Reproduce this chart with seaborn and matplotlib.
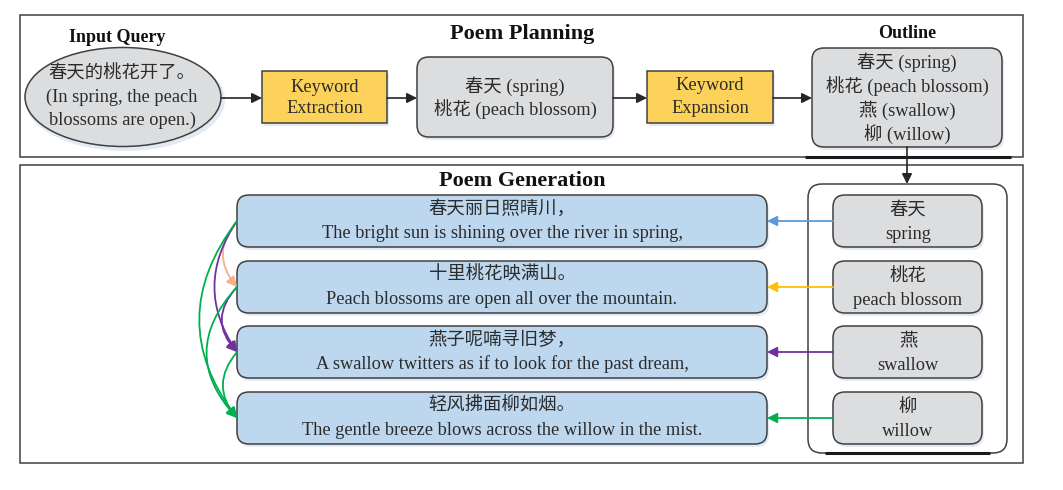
"""Poem planning / poem generation framework diagram."""

import matplotlib

matplotlib.use("Agg")
import matplotlib.pyplot as plt
import seaborn as sns
from matplotlib.patches import Ellipse, FancyArrowPatch, FancyBboxPatch, Rectangle

# text content
QUERY_LINES = ["春天的桃花开了。", "(In spring, the peach", "blossoms are open.)"]
EXTRACTED_LINES = ["春天 (spring)", "桃花 (peach blossom)"]
OUTLINE_LINES = ["春天 (spring)", "桃花 (peach blossom)", "燕 (swallow)", "柳 (willow)"]
KEYWORDS_ZH = ["春天", "桃花", "燕", "柳"]
KEYWORDS_EN = ["spring", "peach blossom", "swallow", "willow"]
POEM_ZH = ["春天丽日照晴川，", "十里桃花映满山。", "燕子呢喃寻旧梦，", "轻风拂面柳如烟。"]
POEM_EN = [
    "The bright sun is shining over the river in spring,",
    "Peach blossoms are open all over the mountain.",
    "A swallow twitters as if to look for the past dream,",
    "The gentle breeze blows across the willow in the mist.",
]
KEYWORD_COLORS = ["#5B9BD5", "#FFC000", "#7030A0", "#00B050"]
# (from line, to line, colour) for the context links between poem lines
CONTEXT_LINKS = [
    (0, 1, "#F4B183"),
    (0, 2, "#7030A0"),
    (0, 3, "#00B050"),
    (1, 2, "#7030A0"),
    (1, 3, "#00B050"),
    (2, 3, "#00B050"),
]
CONTEXT_RAD = [0.42, 0.34, 0.38, 0.46, 0.46, 0.42]

EDGE = "#404040"
TEXT = "#2b2b2b"
GRAY = "#DCDDDF"
YELLOW = "#FDD25A"
BLUE = "#BDD7EE"
SHADOW = "#e3eaf4"
FS = 13.2
TITLE_FS = 16

sns.set_theme(style="white")
plt.rcParams["font.family"] = ["Liberation Serif", "Noto Sans CJK SC", "DejaVu Sans"]

fig = plt.figure(figsize=(10.63, 4.90), dpi=100)
ax = fig.add_axes([0, 0, 1, 1])
ax.set_xlim(0, 1063)
ax.set_ylim(490, 0)
ax.axis("off")


def box(x0, y0, x1, y1, fill, rounded=True, lw=1.1, shadow=True):
    style = "round,pad=0,rounding_size=12" if rounded else "square,pad=0"
    if shadow:
        ax.add_patch(FancyBboxPatch((x0 + 2, y0 + 3), x1 - x0, y1 - y0, boxstyle=style,
                                    facecolor=SHADOW, edgecolor="none", zorder=1))
    ax.add_patch(FancyBboxPatch((x0, y0), x1 - x0, y1 - y0, boxstyle=style,
                                facecolor=fill, edgecolor=EDGE, lw=lw, zorder=2))


def lines(cx, ys, texts, size=FS, color=TEXT):
    for y, t in zip(ys, texts):
        ax.text(cx, y, t, ha="center", va="center", fontsize=size, color=color,
                fontweight="light", zorder=5)


def arrow(p0, p1, color="#262626", lw=1.2, rad=0.0):
    ax.add_patch(FancyArrowPatch(p0, p1, arrowstyle="-|>,head_length=6,head_width=3",
                                 connectionstyle=f"arc3,rad={rad}", color=color, lw=lw,
                                 shrinkA=0, shrinkB=0, mutation_scale=1, zorder=4))


# panels
ax.add_patch(Rectangle((20, 15), 1003, 142, facecolor="none", edgecolor=EDGE, lw=1.1, zorder=1))
ax.add_patch(Rectangle((20, 165), 1003, 298, facecolor="none", edgecolor=EDGE, lw=1.1, zorder=1))
ax.plot([805, 1011], [157, 157], color="#1a1a1a", lw=2.2, solid_capstyle="butt", zorder=3)

# --- poem planning ---
ax.text(522, 34, "Poem Planning", ha="center", va="center", fontsize=TITLE_FS,
        fontweight="bold", color="#111111")
ax.text(117, 37, "Input Query", ha="center", va="center", fontsize=13,
        fontweight="bold", color="#111111")
ax.text(907, 33, "Outline", ha="center", va="center", fontsize=13,
        fontweight="bold", color="#111111")

ax.add_patch(Ellipse((125, 100), 200, 102, facecolor=SHADOW, edgecolor="none", zorder=1))
ax.add_patch(Ellipse((123, 97), 196, 99, facecolor=GRAY, edgecolor=EDGE, lw=1.1, zorder=2))
lines(122, [74, 97, 120], QUERY_LINES)

box(262, 71, 387, 123, YELLOW, rounded=False)
lines(324.5, [87, 108], ["Keyword", "Extraction"])

box(417, 57, 613, 137, GRAY)
lines(515, [86, 109], EXTRACTED_LINES)

box(647, 71, 773, 123, YELLOW, rounded=False)
lines(710, [86, 108], ["Keyword", "Expansion"])

box(812, 48, 1002, 147, GRAY)
lines(907, [62, 86, 110, 134], OUTLINE_LINES)

arrow((221, 98), (262, 98))
arrow((387, 98), (417, 98))
arrow((613, 98), (647, 98))
arrow((773, 98), (812, 98))
arrow((907, 147), (907, 184))

# --- poem generation ---
ax.text(522, 181, "Poem Generation", ha="center", va="center", fontsize=TITLE_FS,
        fontweight="bold", color="#111111")

ax.add_patch(FancyBboxPatch((808, 184), 199, 269, boxstyle="round,pad=0,rounding_size=14",
                            facecolor="none", edgecolor=EDGE, lw=1.1, zorder=1))
ax.plot([825, 990], [453, 453], color="#1a1a1a", lw=2.2, solid_capstyle="butt", zorder=3)

row_tops = [195, 261, 326, 392]
row_h = 52
centers = [t + row_h / 2 for t in row_tops]
for i, top in enumerate(row_tops):
    box(237, top, 767, top + row_h, BLUE)
    lines(502, [top + 14, top + 38], [POEM_ZH[i], POEM_EN[i]])
    box(833, top, 982, top + row_h, GRAY)
    lines(908, [top + 15, top + 39], [KEYWORDS_ZH[i], KEYWORDS_EN[i]])
    arrow((833, centers[i]), (767, centers[i]), color=KEYWORD_COLORS[i], lw=1.3)

for (src, dst, color), rad in zip(CONTEXT_LINKS, CONTEXT_RAD):
    arrow((237, centers[src]), (237, centers[dst]), color=color, lw=1.3, rad=rad)

fig.savefig("out.png", dpi=100, facecolor="white")
